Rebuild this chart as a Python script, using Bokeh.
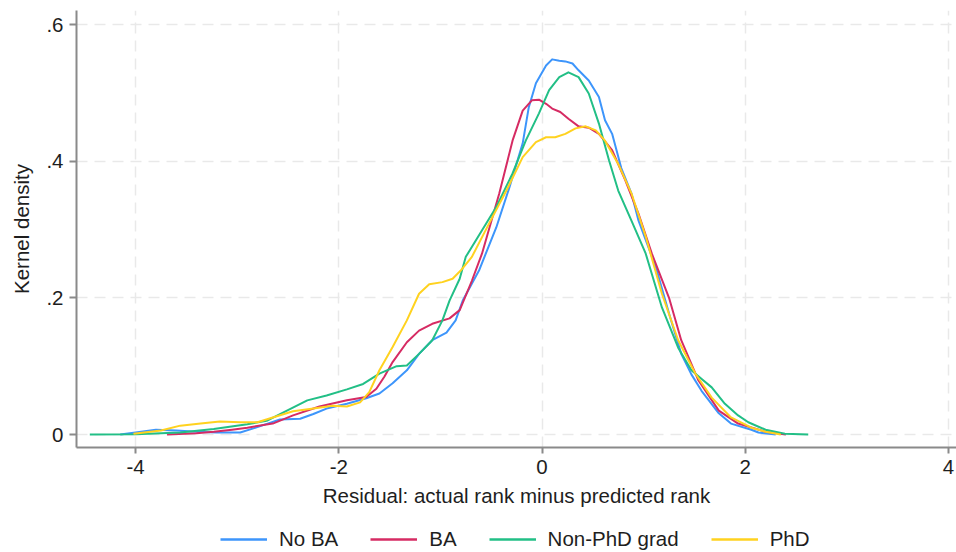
from bokeh.plotting import figure
from bokeh.layouts import column
from bokeh.models import Range1d, FixedTicker, Legend, LegendItem
from bokeh.embed import file_html
from bokeh.resources import INLINE

# ---- data ----
series_names = ["No BA", "BA", "Non-PhD grad", "PhD"]

noba_x = [-4.15, -4.0, -3.8, -3.6, -3.4, -3.2, -2.97, -2.84, -2.7, -2.58, -2.38, -2.25, -2.12,
          -1.92, -1.73, -1.60, -1.47, -1.33, -1.21, -1.08, -0.94, -0.85, -0.78, -0.70, -0.62,
          -0.45, -0.32, -0.19, -0.13, -0.06, 0.04, 0.10, 0.17, 0.23, 0.30, 0.36, 0.46, 0.56,
          0.62, 0.69, 0.78, 0.88, 0.95, 1.12, 1.25, 1.37, 1.47, 1.57, 1.74, 1.86, 2.06, 2.13, 2.3]
noba_y = [0.0, 0.003, 0.007, 0.006, 0.004, 0.003, 0.003, 0.009, 0.016, 0.022, 0.023, 0.030, 0.038,
          0.045, 0.053, 0.060, 0.075, 0.094, 0.118, 0.138, 0.149, 0.167, 0.196, 0.218, 0.240,
          0.303, 0.362, 0.426, 0.479, 0.514, 0.540, 0.549, 0.547, 0.546, 0.543, 0.533, 0.518, 0.494,
          0.460, 0.440, 0.390, 0.353, 0.313, 0.245, 0.177, 0.118, 0.088, 0.064, 0.031, 0.016, 0.007, 0.003, 0.0]

ba_x = [-3.69, -3.4, -3.23, -3.05, -2.9, -2.65, -2.45, -2.19, -1.92, -1.73, -1.63, -1.55, -1.47,
        -1.33, -1.21, -1.08, -0.91, -0.81, -0.69, -0.59, -0.42, -0.29, -0.19, -0.10, -0.03, 0.04,
        0.10, 0.18, 0.26, 0.36, 0.46, 0.56, 0.69, 0.82, 0.95, 1.08, 1.25, 1.37, 1.54, 1.74, 1.93,
        2.2, 2.4]
ba_y = [0.0, 0.002, 0.004, 0.007, 0.010, 0.016, 0.028, 0.041, 0.050, 0.055, 0.067, 0.085, 0.106,
        0.135, 0.152, 0.162, 0.170, 0.182, 0.225, 0.265, 0.353, 0.430, 0.474, 0.489, 0.490, 0.484,
        0.477, 0.472, 0.462, 0.451, 0.449, 0.440, 0.416, 0.372, 0.323, 0.265, 0.200, 0.138, 0.079,
        0.035, 0.016, 0.004, 0.0]

grad_x = [-4.45, -4.0, -3.56, -3.23, -2.9, -2.71, -2.51, -2.31, -2.12, -1.92, -1.76, -1.6, -1.43,
          -1.33, -1.21, -1.08, -0.98, -0.91, -0.81, -0.75, -0.59, -0.45, -0.29, -0.16, -0.03, 0.07,
          0.17, 0.26, 0.36, 0.46, 0.56, 0.66, 0.75, 0.88, 1.02, 1.18, 1.34, 1.47, 1.58, 1.67, 1.8,
          1.93, 2.03, 2.2, 2.39, 2.62]
grad_y = [0.0, 0.0005, 0.003, 0.008, 0.015, 0.020, 0.035, 0.050, 0.057, 0.066, 0.074, 0.089, 0.100,
          0.101, 0.118, 0.138, 0.167, 0.196, 0.228, 0.260, 0.299, 0.333, 0.382, 0.430, 0.470, 0.504,
          0.523, 0.530, 0.523, 0.499, 0.455, 0.401, 0.357, 0.313, 0.265, 0.186, 0.127, 0.094, 0.080,
          0.069, 0.045, 0.028, 0.018, 0.007, 0.001, 0.0]

phd_x = [-4.02, -3.75, -3.56, -3.36, -3.17, -2.97, -2.8, -2.65, -2.45, -2.25, -2.06, -1.92, -1.79,
         -1.7, -1.6, -1.47, -1.33, -1.21, -1.11, -0.98, -0.88, -0.80, -0.69, -0.52, -0.35, -0.19,
         -0.06, 0.04, 0.13, 0.23, 0.33, 0.43, 0.53, 0.62, 0.75, 0.88, 1.02, 1.18, 1.34, 1.51, 1.67,
         1.86, 2.06, 2.2, 2.35]
phd_y = [0.001, 0.006, 0.013, 0.016, 0.019, 0.018, 0.018, 0.025, 0.034, 0.038, 0.042, 0.041, 0.047,
         0.062, 0.094, 0.128, 0.167, 0.206, 0.220, 0.223, 0.228, 0.240, 0.260, 0.309, 0.357, 0.406,
         0.428, 0.435, 0.435, 0.440, 0.448, 0.451, 0.445, 0.430, 0.396, 0.353, 0.290, 0.206, 0.138,
         0.089, 0.054, 0.025, 0.010, 0.004, 0.0]

x_ticks = [-4, -2, 0, 2, 4]
x_tick_labels = ["-4", "-2", "0", "2", "4"]
y_ticks = [0, 0.2, 0.4, 0.6]
y_tick_labels = ["0", ".2", ".4", ".6"]

x_title = "Residual: actual rank minus predicted rank"
y_title = "Kernel density"

colors = ["#3d95fb", "#d62b63", "#22bf86", "#ffd21f"]

# ---- main figure ----
FONT = "Liberation Sans"
FS = "20.5px"
TXT = "#1e1e1e"
p = figure(width=956, height=526, title=None,
           x_range=Range1d(-4.581, 4.079), y_range=Range1d(-0.019, 0.6205),
           output_backend="svg", toolbar_location=None,
           min_border_left=76, min_border_right=0, min_border_top=10, min_border_bottom=79)
p.outline_line_color = None
p.background_fill_color = "white"
p.border_fill_color = "white"

for g, t in ((p.xgrid, x_ticks), (p.ygrid, y_ticks)):
    g.ticker = FixedTicker(ticks=t)
    g.grid_line_color = "#e9e9e9"
    g.grid_line_width = 1.5
    g.grid_line_dash = "11 7"

p.xaxis.ticker = FixedTicker(ticks=x_ticks)
p.xaxis.major_label_overrides = dict(zip(x_ticks, x_tick_labels))
p.yaxis.ticker = FixedTicker(ticks=y_ticks)
p.yaxis.major_label_overrides = dict(zip(y_ticks, y_tick_labels))
for ax in (p.xaxis, p.yaxis):
    ax.axis_line_color = "#8a8a8a"
    ax.axis_line_width = 2
    ax.major_tick_line_color = "#8a8a8a"
    ax.major_tick_line_width = 2
    ax.major_tick_in = 0
    ax.minor_tick_line_color = None
    ax.major_label_text_font = FONT
    ax.major_label_text_font_size = FS
    ax.major_label_text_color = TXT
    ax.axis_label_text_font = FONT
    ax.axis_label_text_font_size = FS
    ax.axis_label_text_font_style = "normal"
    ax.axis_label_text_color = TXT
p.xaxis.major_tick_out = 6
p.xaxis.major_label_standoff = 6
p.xaxis.axis_label = x_title
p.xaxis.axis_label_standoff = 7
p.yaxis.major_tick_out = 7
p.yaxis.major_label_standoff = 6
p.yaxis.major_label_orientation = "horizontal"
p.yaxis.axis_label = y_title
p.yaxis.axis_label_standoff = 10

xs = [noba_x, ba_x, grad_x, phd_x]
ys = [noba_y, ba_y, grad_y, phd_y]
for x, y, c in zip(xs, ys, colors):
    p.line(x, y, line_color=c, line_width=2, line_join="round")

# ---- legend strip below the chart (same series, drawn outside its view) ----
leg = figure(width=956, height=26, title=None, x_range=Range1d(10, 11), y_range=Range1d(10, 11),
             output_backend="svg", toolbar_location=None,
             x_axis_location=None, y_axis_location=None,
             min_border_left=0, min_border_right=0, min_border_top=0, min_border_bottom=0)
leg.outline_line_color = None
leg.xgrid.visible = False
leg.ygrid.visible = False
items = []
for name, x, y, c in zip(series_names, xs, ys, colors):
    r = leg.line(x, y, line_color=c, line_width=2.5)
    items.append(LegendItem(label=name, renderers=[r]))
legend = Legend(items=items, orientation="horizontal", location=(144, 1),
                glyph_width=47, glyph_height=20, label_standoff=12, spacing=32,
                padding=0, margin=0, border_line_color=None, background_fill_alpha=0,
                label_text_font=FONT, label_text_font_size=FS,
                label_text_color=TXT)
leg.add_layout(legend, "center")

layout = column(p, leg, spacing=0)
open("out.html", "w").write(file_html(layout, INLINE))
